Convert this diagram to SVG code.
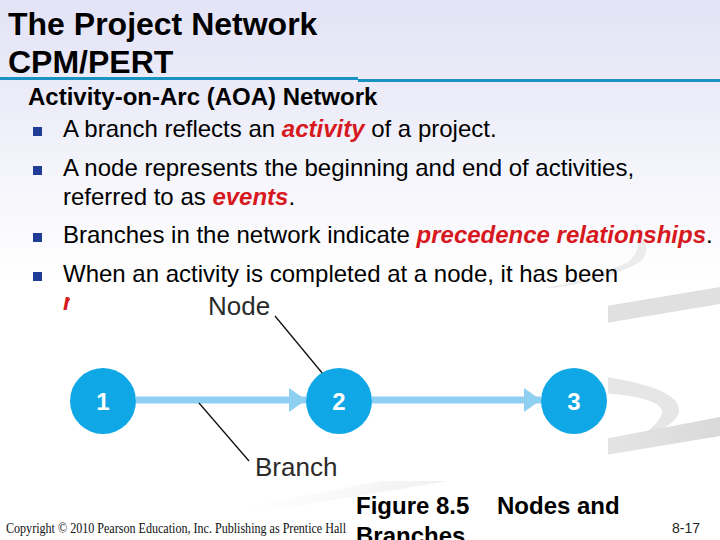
<svg xmlns="http://www.w3.org/2000/svg" width="720" height="540" viewBox="0 0 720 540">
<defs>
<linearGradient id="bg" x1="0" y1="0" x2="0" y2="1">
<stop offset="0" stop-color="#e3e3f6"/>
<stop offset="0.18" stop-color="#ececf9"/>
<stop offset="0.36" stop-color="#f7f7fc"/>
<stop offset="0.52" stop-color="#ffffff"/>
<stop offset="1" stop-color="#ffffff"/>
</linearGradient>
<linearGradient id="sw" x1="0" y1="0" x2="1" y2="0">
<stop offset="0" stop-color="#e4e4e4" stop-opacity="0"/>
<stop offset="0.55" stop-color="#e4e4e4" stop-opacity="0.7"/>
<stop offset="1" stop-color="#d9d9d9"/>
</linearGradient>
<marker id="ah" markerUnits="userSpaceOnUse" markerWidth="18" markerHeight="24" refX="17" refY="12" orient="auto">
<path d="M0,0 L17,12 L0,24 Z" fill="#8fd0f2"/>
</marker>
<style>
.t{font-family:"Liberation Sans",Arial,sans-serif;fill:#000}
.title{font-size:32px;font-weight:bold}
.sub{font-size:24px;font-weight:bold}
.b{font-size:24px}
.em{fill:#d7191f;font-weight:bold;font-style:italic}
.bul{fill:#1f3c96}
.lab{font-family:"Liberation Sans",Arial,sans-serif;font-size:26px;fill:#2b2b2b}
.num{font-family:"Liberation Sans",Arial,sans-serif;font-size:24px;font-weight:bold;fill:#fff;text-anchor:middle}
.node{fill:#0fa7e6}
.edge{stroke:#8fd0f2;stroke-width:7;fill:none}
.lead{stroke:#111;stroke-width:1.3;fill:none}
</style>
</defs>
<rect x="0" y="0" width="720" height="540" fill="url(#bg)"/>
<g id="swoosh">
<path d="M633,220 Q655,250 640,262 Q600,285 520,292 Q590,282 628,262 Q646,248 633,220 Z" fill="#ececec"/>
<path d="M600,307 L720,287 L720,304 L600,324 Z" fill="#e0e0e0"/>
<path d="M600,376 Q682,388 679,412 Q674,428 643,435 Q663,420 662,410 Q655,396 600,393 Z" fill="#e6e6e6"/>
<path d="M250,506 L720,417 L720,436 L250,514 Z" fill="url(#sw)"/>
</g>
<g id="title">
<text class="t title" x="8" y="35">The Project Network</text>
<text class="t title" x="8" y="73">CPM/PERT</text>
<rect x="0" y="77" width="358" height="3" fill="#1a92c2"/>
<rect x="358" y="79" width="362" height="3" fill="#1a92c2"/>
</g>
<g id="body">
<text class="t sub" x="28" y="105">Activity-on-Arc (AOA) Network</text>
<rect class="bul" x="33" y="127" width="9" height="9"/>
<text class="t b" x="63" y="137">A branch reflects an <tspan class="em">activity</tspan> of a project.</text>
<rect class="bul" x="33" y="166" width="9" height="9"/>
<text class="t b" x="63" y="176">A node represents the beginning and end of activities,</text>
<text class="t b" x="63" y="205">referred to as <tspan class="em">events</tspan>.</text>
<rect class="bul" x="33" y="233" width="9" height="9"/>
<text class="t b" x="63" y="243">Branches in the network indicate <tspan class="em">precedence relationships</tspan>.</text>
<rect class="bul" x="33" y="272" width="9" height="9"/>
<text class="t b" x="63" y="282">When an activity is completed at a node, it has been</text>
<text class="t b em" x="63" y="310">r</text>
</g>
<rect id="figure-bg" x="70" y="288" width="538" height="193" fill="#ffffff"/>
<g id="connectors">
<line class="edge" x1="136" y1="400" x2="306" y2="400" marker-end="url(#ah)"/>
<line class="edge" x1="372" y1="400" x2="541" y2="400" marker-end="url(#ah)"/>
<line class="lead" x1="275" y1="316" x2="323" y2="374"/>
<line class="lead" x1="199" y1="403" x2="249" y2="461"/>
</g>
<g id="node1">
<circle class="node" cx="103" cy="401" r="33"/>
<text class="num" x="103" y="410">1</text>
</g>
<g id="node2">
<circle class="node" cx="339" cy="401" r="33"/>
<text class="num" x="339" y="410">2</text>
</g>
<g id="node3">
<circle class="node" cx="574" cy="401" r="33"/>
<text class="num" x="574" y="410">3</text>
</g>
<g id="label-node">
<text class="lab" x="208" y="315">Node</text>
</g>
<g id="label-branch">
<text class="lab" x="255" y="476">Branch</text>
</g>
<g id="caption">
<text class="t" x="356" y="514" font-size="24" font-weight="bold">Figure 8.5<tspan x="497">Nodes and</tspan></text>
<text class="t" x="356" y="544" font-size="24" font-weight="bold">Branches</text>
</g>
<g id="footer">
<text x="6" y="533" font-family="'Liberation Serif','Times New Roman',serif" font-size="14" fill="#111" textLength="340" lengthAdjust="spacingAndGlyphs">Copyright © 2010 Pearson Education, Inc. Publishing as Prentice Hall</text>
<text x="672" y="533" font-family="'Liberation Sans',Arial,sans-serif" font-size="14" fill="#222" textLength="28" lengthAdjust="spacingAndGlyphs">8-17</text>
</g>
</svg>
